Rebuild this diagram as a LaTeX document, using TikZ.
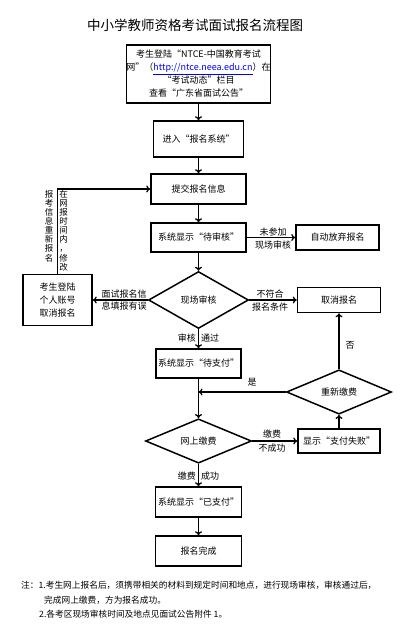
\documentclass[tikz,border=0pt]{standalone}
\usepackage{fontspec}
\setmainfont{Noto Sans CJK SC}
\usetikzlibrary{shapes.geometric,arrows.meta}
\begin{document}
\begin{tikzpicture}[x=1pt,y=-1pt,
 box/.style={draw,line width=1.5pt,inner sep=0pt,align=center,font=\fontsize{9}{13}\selectfont},
 dia/.style={draw,diamond,line width=1.5pt,inner sep=0pt,font=\fontsize{9}{11}\selectfont},
 conn/.style={line width=1.3pt,-{To[length=4pt,width=7pt,line width=1.3pt]}},
 plain/.style={line width=1.3pt},
 lbl/.style={font=\fontsize{9}{11}\selectfont,inner sep=0pt},
 vt/.style={font=\fontsize{8.5}{9.1}\selectfont,align=center,inner sep=0pt},
 note/.style={font=\fontsize{8.7}{10}\selectfont,inner sep=0pt},
]
\useasboundingbox (0,0) rectangle (415,624);
\fill[white] (0,0) rectangle (415,624);

\node[font=\fontsize{13.5}{15}\selectfont,inner sep=0pt] (title) at (195,25) {中小学教师资格考试面试报名流程图};

\node[box,minimum width=143pt,minimum height=58pt] (b1) at (198.5,74)
 {考生登陆“NTCE-中国教育考试\\网”（\textcolor{blue}{\underline{http://ntce.neea.edu.cn}}）在\\“考试动态”栏目\\查看“广东省面试公告”};
\node[box,minimum width=90pt,minimum height=36pt] (b2) at (198.5,139) {进入“报名系统”};
\node[box,minimum width=95pt,minimum height=30pt] (b3) at (198.5,189) {提交报名信息};
\node[box,minimum width=95pt,minimum height=29pt] (b4) at (198.5,237.5) {系统显示“待审核”};
\node[box,minimum width=83pt,minimum height=25pt] (b5) at (337.5,237.5) {自动放弃报名};
\node[dia,minimum width=100pt,minimum height=57pt] (d1) at (198.5,300) {现场审核};
\node[box,minimum width=69pt,minimum height=51pt] (b6) at (57.5,300) {考生登陆\\个人账号\\取消报名};
\node[box,minimum width=83pt,minimum height=25pt] (b7) at (339,300) {取消报名};
\node[box,minimum width=85pt,minimum height=29pt] (b8) at (198.5,363.5) {系统显示“待支付”};
\node[dia,minimum width=105pt,minimum height=42pt] (d2) at (339,392) {重新缴费};
\node[dia,minimum width=106pt,minimum height=44pt] (d3) at (198.5,441) {网上缴费};
\node[box,minimum width=82pt,minimum height=24pt] (b9) at (339,441) {显示“支付失败”};
\node[box,minimum width=86pt,minimum height=30pt] (b10) at (198.5,502) {系统显示“已支付”};
\node[box,minimum width=86pt,minimum height=30pt] (b11) at (198.5,551) {报名完成};

\draw[conn] (b1) -- (b2);
\draw[conn] (b2) -- (b3);
\draw[conn] (b3) -- (b4);
\draw[conn] (b4) -- (b5);
\draw[conn] (b4) -- (d1);
\draw[conn] (d1) -- (b6);
\draw[conn] (d1) -- (b7);
\draw[conn] (b6.north) |- (b3.west);
\draw[conn] (d1) -- (b8);
\draw[conn] (b8) -- (d3);
\coordinate (m) at (198.5,392);
\draw[conn] (d2.west) -- (m);
\draw[conn] (d2.north) -- (b7.south);
\draw[conn] (d3) -- (b9);
\draw[conn] (b9.north) -- (d2.south);
\draw[conn] (d3) -- (b10);
\draw[conn] (b10) -- (b11);

\node[lbl] (l1) at (273,232) {未参加};
\node[lbl] (l2) at (273,245) {现场审核};
\node[lbl] (l3) at (124,294) {面试报名信};
\node[lbl] (l4) at (124,306) {息填报有误};
\node[lbl] (l5) at (270,294) {不符合};
\node[lbl] (l6) at (270,307) {报名条件};
\node[lbl,anchor=east] (l7) at (196,338) {审核};
\node[lbl,anchor=west] (l8) at (201,338) {通过};
\node[lbl] (l9) at (350,345) {否};
\node[lbl] (l10) at (252,382) {是};
\node[lbl] (l11) at (272,434) {缴费};
\node[lbl] (l12) at (272,448) {不成功};
\node[lbl,anchor=east] (l13) at (196,476) {缴费};
\node[lbl,anchor=west] (l14) at (201,476) {成功};

\node[vt,anchor=north] (v1) at (49,190) {报\\考\\信\\息\\重\\新\\报\\名};
\node[vt,anchor=north] (v2) at (63.5,190) {在\\网\\报\\时\\间\\内\\，\\修\\改};

\node[note,anchor=west] (n1) at (21,585) {注：1.考生网上报名后，须携带相关的材料到规定时间和地点，进行现场审核，审核通过后，};
\node[note,anchor=west] (n2) at (44,600) {完成网上缴费，方为报名成功。};
\node[note,anchor=west] (n3) at (39,614) {2.各考区现场审核时间及地点见面试公告附件 1。};
\end{tikzpicture}
\end{document}
